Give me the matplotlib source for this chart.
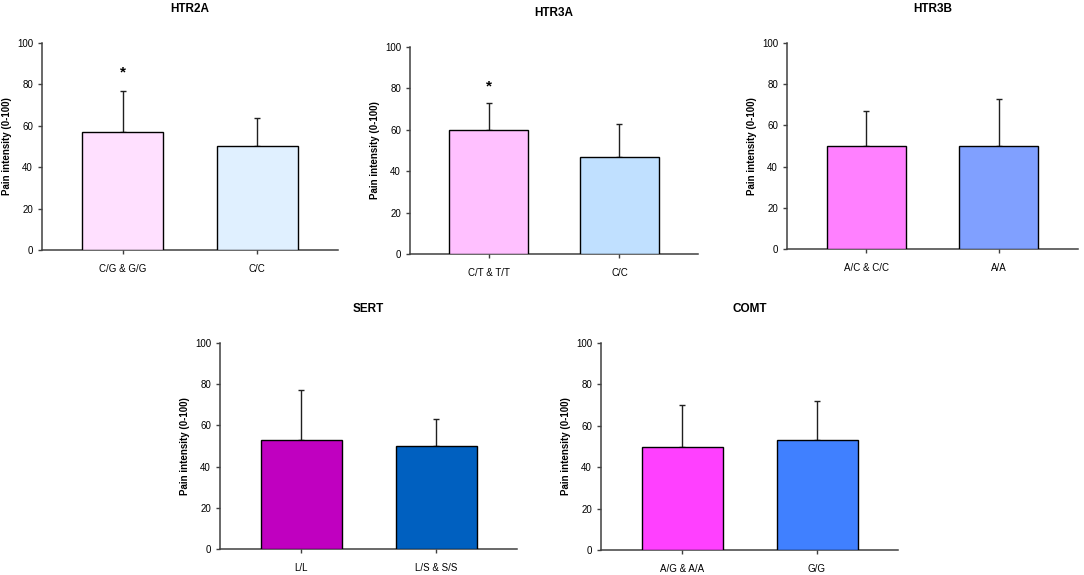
import matplotlib.pyplot as plt

plt.rcParams['font.family'] = ['Liberation Sans', 'DejaVu Sans']

# Data
genes = ['HTR2A', 'HTR3A', 'HTR3B', 'SERT', 'COMT']
genotypes = [['C/G & G/G', 'C/C'],
             ['C/T & T/T', 'C/C'],
             ['A/C & C/C', 'A/A'],
             ['L/L', 'L/S & S/S'],
             ['A/G & A/A', 'G/G']]
means = [[57, 50], [60, 47], [50, 50], [53, 50], [50, 53]]
sd = [[20, 14], [13, 16], [17, 23], [24, 13], [20, 19]]
star_y = [86, 81, None, None, None]   # significance marker over first bar
colors = [['#FFE0FF', '#E0F0FF'],
          ['#FFC0FF', '#C0E0FF'],
          ['#FF80FF', '#80A0FF'],
          ['#C000C0', '#0060C0'],
          ['#FF40FF', '#4080FF']]

W, H = 1084, 575
# panel boxes in pixels: left, top, right, bottom
boxes = [(42, 43, 338, 250), (410, 47, 698, 254), (787, 43, 1078, 249),
         (220, 343, 517, 549), (601, 343, 898, 550)]

fig = plt.figure(figsize=(W / 100, H / 100), dpi=100)

for i, gene in enumerate(genes):
    l, t, r, b = boxes[i]
    ax = fig.add_axes([l / W, 1 - b / H, (r - l) / W, (b - t) / H])
    x = [0, 1]
    ax.bar(x, means[i], width=0.6, color=colors[i], edgecolor='black', linewidth=1, zorder=3)
    ax.errorbar(x, means[i], yerr=[[0, 0], sd[i]], fmt='none', ecolor='#202020',
                elinewidth=1, capsize=2, capthick=1, zorder=2)
    if star_y[i] is not None:
        ax.text(0, star_y[i], '*', ha='center', va='center', fontsize=11, fontweight='bold')

    ax.set_xlim(-0.6, 1.6)
    ax.set_ylim(0, 100)
    ax.set_yticks(range(0, 101, 20))
    ax.set_xticks(x)
    ax.set_xticklabels(genotypes[i])
    for s in ['top', 'right']:
        ax.spines[s].set_visible(False)
    for s in ['left', 'bottom']:
        ax.spines[s].set_color('#404040')
        ax.spines[s].set_linewidth(1.1)
    ax.tick_params(direction='out', length=3, width=1, color='#404040', labelsize=7)
    ax.tick_params(axis='x', pad=7)
    ax.set_ylabel('Pain intensity (0-100)', fontsize=7, fontweight='bold')
    ax.yaxis.set_label_coords(-30 / (r - l), 0.5)
    ax.set_title(gene, fontsize=8.5, fontweight='bold', pad=22)

fig.savefig('out.png', dpi=100)
